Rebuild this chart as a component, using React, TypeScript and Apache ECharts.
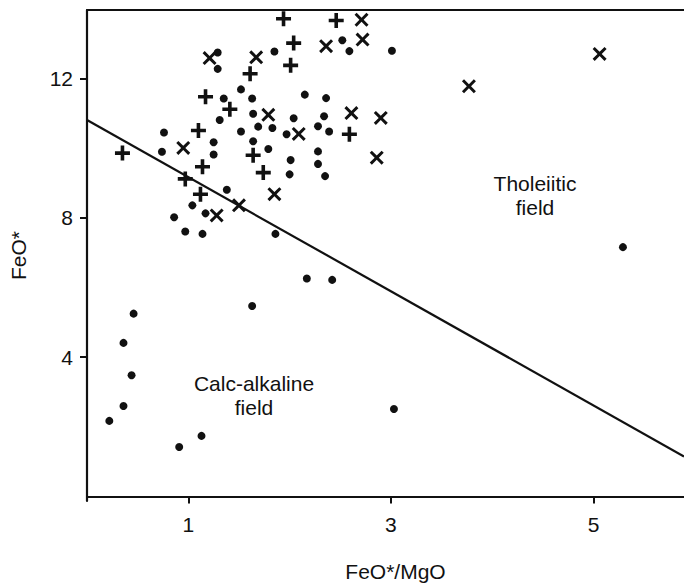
import React, { useEffect, useRef } from "react";
import * as echarts from "echarts";

// FeO*/MgO (x) vs FeO* (y)
const dotPoints: [number, number][] = [
  [1.29, 12.75], [1.29, 12.28], [1.85, 12.78], [2.52, 13.1], [2.59, 12.79], [3.01, 12.8],
  [1.52, 11.69], [1.63, 11.43], [1.35, 11.43], [2.15, 11.54], [2.36, 11.44],
  [1.64, 10.99], [1.31, 10.81], [2.04, 10.86], [2.34, 10.92], [1.69, 10.62], [1.83, 10.58],
  [2.28, 10.63], [2.39, 10.48], [1.52, 10.48], [1.97, 10.4], [0.76, 10.45], [1.25, 10.17],
  [1.64, 10.2], [1.79, 9.98], [0.74, 9.9], [1.25, 9.82], [2.28, 9.91], [2.01, 9.66],
  [2.28, 9.55], [2.0, 9.25], [2.35, 9.2], [1.38, 8.81], [1.04, 8.36], [1.17, 8.13],
  [0.86, 8.02], [0.97, 7.61], [1.14, 7.54], [1.86, 7.54],
  [0.46, 5.25], [0.36, 4.41], [0.44, 3.48], [0.36, 2.6], [0.22, 2.17], [0.91, 1.42],
  [1.13, 1.74], [1.63, 5.47], [2.17, 6.26], [2.42, 6.22], [3.03, 2.51], [5.29, 7.16]
];

const plusPoints: [number, number][] = [
  [1.94, 13.72], [2.46, 13.67], [2.04, 13.02], [2.01, 12.38], [1.61, 12.14], [1.17, 11.48],
  [1.41, 11.12], [1.1, 10.51], [0.35, 9.86], [1.64, 9.8], [1.14, 9.47], [1.74, 9.3],
  [0.97, 9.12], [1.12, 8.68], [2.59, 10.4]
];

const crossPoints: [number, number][] = [
  [1.21, 12.59], [1.67, 12.61], [2.36, 12.93], [1.79, 10.96], [2.09, 10.41], [0.95, 10.01],
  [1.85, 8.68], [1.5, 8.36], [1.28, 8.07], [2.71, 13.69], [2.72, 13.12], [5.06, 12.71],
  [3.77, 11.78], [2.61, 11.01], [2.9, 10.87], [2.86, 9.73]
];

const boundaryLine: [number, number][] = [[0, 10.81], [5.893, 1.15]];

const xTicks = [1, 3, 5];
const yTicks = [4, 8, 12];

const FONT = "'Liberation Sans', Arial, Helvetica, sans-serif";
const INK = "#111111";

const PLUS_PATH = "path://M38,0H62V38H100V62H62V100H38V62H0V38H38Z";
const CROSS_PATH = "path://M0,15L15,0L50,35L85,0L100,15L65,50L100,85L85,100L50,65L15,100L0,85L35,50Z";

export default function App() {
  const ref = useRef<HTMLDivElement>(null);
  useEffect(() => {
    const chart = echarts.init(ref.current!, null, { renderer: "svg" });
    chart.setOption({
      animation: false,
      backgroundColor: "#ffffff",
      grid: { left: 85, right: 0, top: 10, bottom: 82, containLabel: false },
      xAxis: [
        {
          type: "value",
          min: 0,
          max: 5.893,
          name: "FeO*/MgO",
          nameLocation: "middle",
          nameGap: 60,
          nameTextStyle: { fontFamily: FONT, fontSize: 21, color: INK, padding: [0, 0, 0, 20] },
          splitLine: { show: false },
          axisLine: { show: true, lineStyle: { color: INK, width: 2.2 } },
          axisTick: { show: true, length: 7, lineStyle: { color: INK, width: 2 }, customValues: xTicks },
          axisLabel: { fontFamily: FONT, fontSize: 21, color: INK, margin: 13, customValues: xTicks },
        },
        {
          type: "value",
          position: "top",
          min: 0,
          max: 5.893,
          splitLine: { show: false },
          axisLine: { show: true, lineStyle: { color: INK, width: 2.2 } },
          axisTick: { show: false },
          axisLabel: { show: false },
        },
      ],
      yAxis: {
        type: "value",
        min: -0.13,
        max: 13.97,
        name: "FeO*",
        nameLocation: "middle",
        nameGap: 58,
        nameTextStyle: { fontFamily: FONT, fontSize: 21, color: INK },
        splitLine: { show: false },
        axisLine: { show: true, lineStyle: { color: INK, width: 2.2 } },
        axisTick: { show: true, length: 7, lineStyle: { color: INK, width: 2 }, customValues: yTicks },
        axisLabel: { fontFamily: FONT, fontSize: 21, color: INK, margin: 14, customValues: yTicks },
      },
      series: [
        {
          type: "line",
          data: boundaryLine,
          symbol: "none",
          lineStyle: { color: INK, width: 2.2, opacity: 1 },
          silent: true,
        },
        {
          type: "scatter",
          data: dotPoints,
          symbol: "circle",
          symbolSize: 8,
          itemStyle: { color: INK, opacity: 1 },
        },
        {
          type: "scatter",
          data: plusPoints,
          symbol: PLUS_PATH,
          symbolSize: 15,
          itemStyle: { color: INK, opacity: 1 },
        },
        {
          type: "scatter",
          data: crossPoints,
          symbol: CROSS_PATH,
          symbolSize: 14,
          itemStyle: { color: INK, opacity: 1 },
        },
      ],
      graphic: [
        {
          type: "text",
          x: 535,
          y: 171,
          style: {
            text: "Tholeiitic\nfield",
            fontFamily: FONT,
            fontSize: 21,
            lineHeight: 24,
            fill: INK,
            textAlign: "center",
            textVerticalAlign: "top",
          },
        },
        {
          type: "text",
          x: 254,
          y: 371,
          style: {
            text: "Calc-alkaline\nfield",
            fontFamily: FONT,
            fontSize: 21,
            lineHeight: 24,
            fill: INK,
            textAlign: "center",
            textVerticalAlign: "top",
          },
        },
      ],
    });
    return () => chart.dispose();
  }, []);
  return (
    <div
      ref={ref}
      style={{ position: "absolute", left: 0, top: 0, width: 684, height: 587 }}
    />
  );
}
